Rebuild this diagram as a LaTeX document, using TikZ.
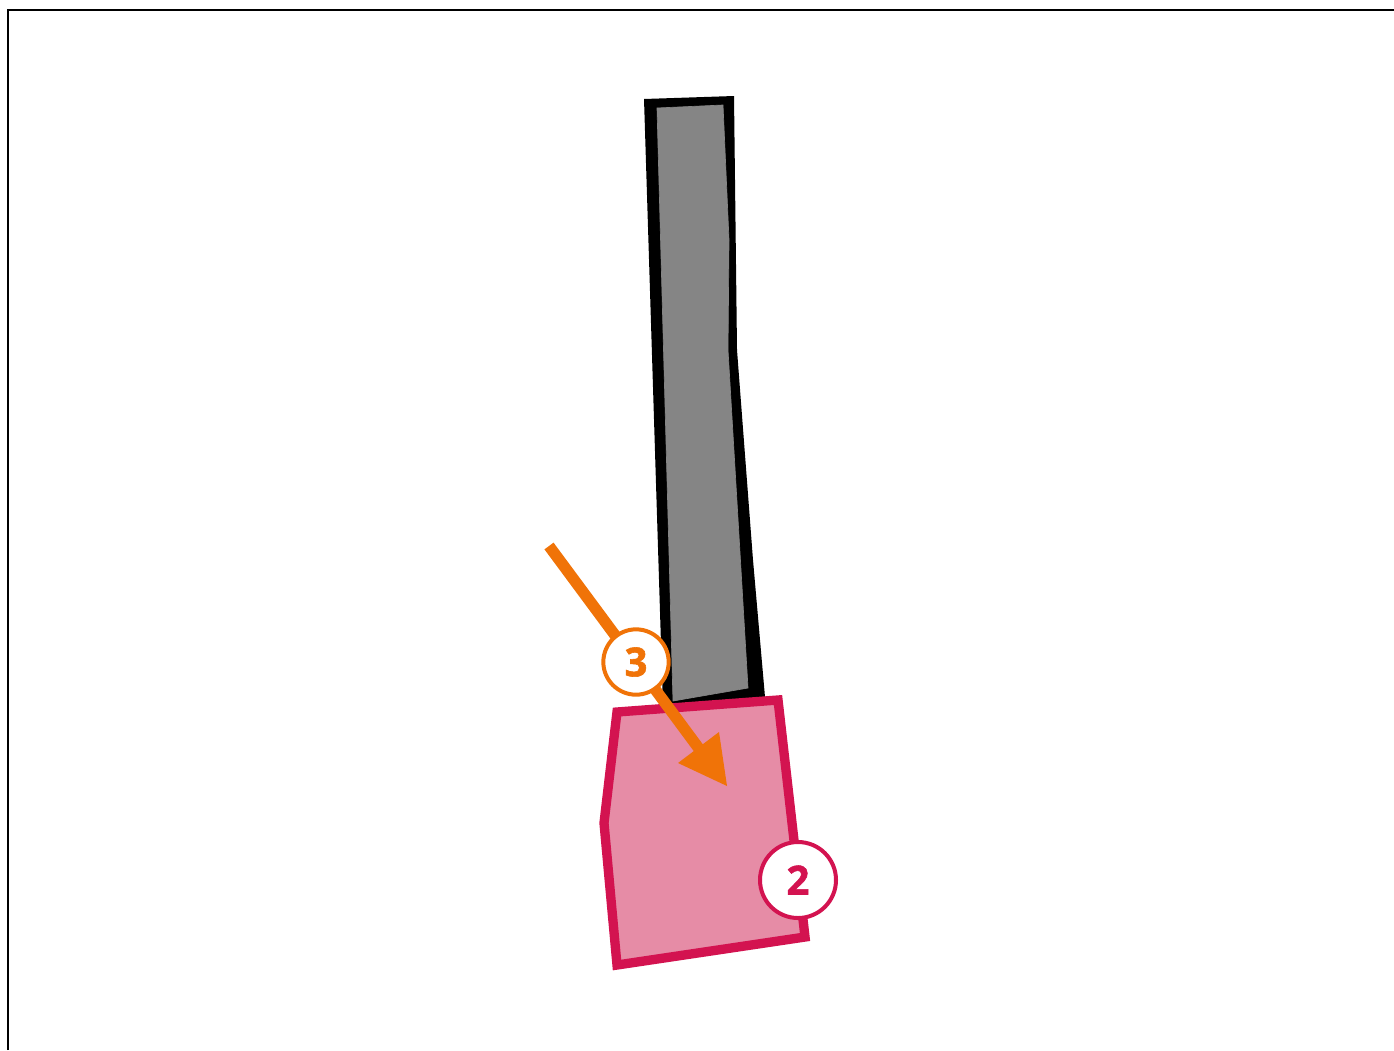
\documentclass[tikz,border=0pt]{standalone}
\usepackage{fontspec}
\newfontfamily\badgefont{Open Sans}[BoldFeatures={FakeBold=1.5}]
\definecolor{crim}{HTML}{D31350}
\definecolor{pinkfill}{HTML}{E68CA6}
\definecolor{barfill}{HTML}{858585}
\definecolor{orng}{HTML}{F07308}
\tikzset{
  badge/.style={circle, fill=white, line width=3pt, minimum size=50pt, inner sep=0pt, font=\badgefont\bfseries\fontsize{30}{30}\selectfont},
}
\begin{document}
\begin{tikzpicture}[x=0.75pt,y=-0.75pt]
\useasboundingbox (0,0) rectangle (1394,1050);
% frame
\draw[line width=1.6pt] (8,1050) -- (8,10) -- (1394,10);
% black backing of the bar
\fill[black] (644,99) -- (734,96) -- (737,350) -- (753,560) -- (765,697) -- (663,708) -- cycle;
% gray bar
\draw[barfill, fill=barfill, line width=0.5pt, line join=miter] (657,108) -- (723,105) -- (729,240) -- (728,350) -- (748,688) -- (673,701) -- cycle;
% pink sleeve
\draw[crim, fill=pinkfill, line width=7pt, line join=miter] (617,712) -- (778,700) -- (805,937) -- (617,965) -- (604,823) -- cycle;
% arrow
\coordinate (as) at (549,546);
\coordinate (ab) at (700,750);
\coordinate (tip) at (727,786);
\draw[orng, line width=8.5pt] (as) -- (ab);
\fill[orng] (tip) -- (678,763) -- (719,732) -- cycle;
% badges
\node[badge, draw=orng, text=orng, minimum size=49pt] (b3) at (636,662) {3};
\node[badge, draw=crim, text=crim, minimum size=57pt] (b2) at (798,880) {2};
\end{tikzpicture}
\end{document}
